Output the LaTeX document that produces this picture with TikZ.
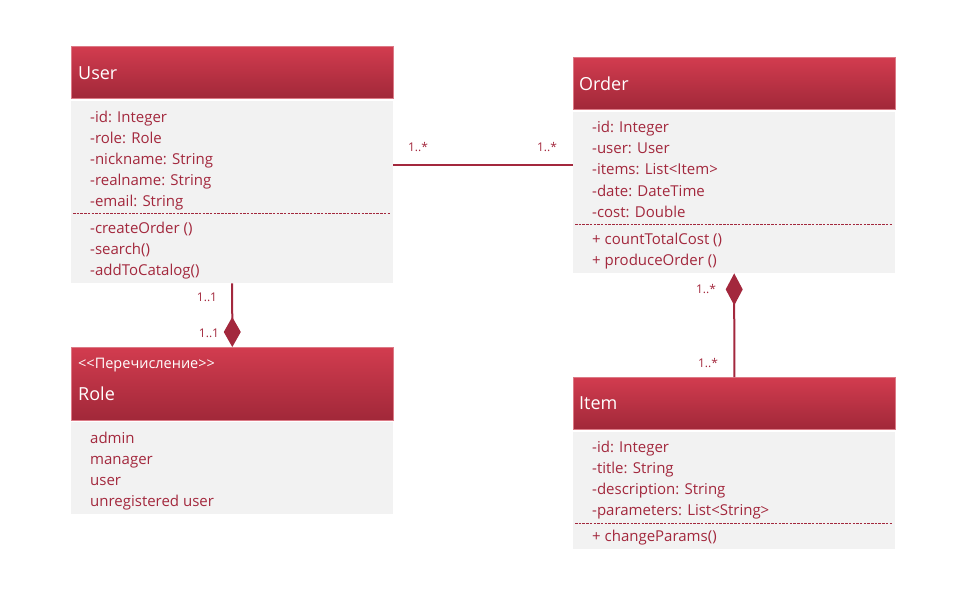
\documentclass[tikz,border=0pt]{standalone}
\usepackage{fontspec}
\setmainfont{Open Sans}
\usetikzlibrary{arrows.meta}
\definecolor{umlred}{HTML}{A3283D}
\definecolor{headtop}{HTML}{D23C4F}
\definecolor{headbot}{HTML}{A12839}
\definecolor{headedge}{HTML}{DC7A86}
\definecolor{bodygray}{HTML}{F2F2F2}
\begin{document}
\begin{tikzpicture}
[
x=1pt, y=-1pt,
umlhead/.style={rectangle, anchor=north west, top color=headtop, bottom color=headbot, draw=headedge, line width=0.6pt, minimum width=322pt, inner sep=0pt},
umlbody/.style={rectangle, anchor=north west, fill=bodygray, minimum width=322pt, inner sep=0pt},
umltitle/.style={anchor=base west, text=white, inner sep=0pt, font=\fontsize{18}{21}\selectfont},
umlstereo/.style={anchor=base west, text=white, inner sep=0pt, font=\fontsize{14.5}{15}\selectfont},
umlline/.style={anchor=base west, text=umlred, inner sep=0pt, font=\fontsize{15}{21}\selectfont},
sepline/.style={draw=umlred, dash pattern=on 2.5pt off 1.2pt, line width=0.8pt},
mult/.style={text=umlred, inner sep=0pt, font=\fontsize{12}{14}\selectfont},
assoc/.style={draw=umlred, line width=2pt, line join=miter}
]
\useasboundingbox (0,0) rectangle (970,592);

%Boxes
\node[umlhead, minimum height=52pt]	(userh) at(71,46) {};
\node[umlbody, minimum height=182pt]	(userb) at(71,101) {};
\node[umlhead, minimum height=52pt]	(orderh) at(573,57) {};
\node[umlbody, minimum height=161pt]	(orderb) at(573,112) {};
\node[umlhead, minimum height=73pt]	(roleh) at(71,347) {};
\node[umlbody, minimum height=92pt]	(roleb) at(71,422) {};
\node[umlhead, minimum height=52pt]	(itemh) at(573,377) {};
\node[umlbody, minimum height=117pt]	(itemb) at(573,432) {};

%Titles
\node[umltitle]		(usert) at(78,79) {User};
\node[umltitle]		(ordert) at(579,90) {Order};
\node[umlstereo]	(roles) at(78,368) {<{}<Перечисление>{}>};
\node[umltitle]		(rolet) at(78,400) {Role};
\node[umltitle]		(itemt) at(579,409) {Item};

%User
\node[umlline]	(u1) at(90,122) {-id: Integer};
\node[umlline]	(u2) at(90,143) {-role: Role};
\node[umlline]	(u3) at(90,164) {-nickname: String};
\node[umlline]	(u4) at(90,185) {-realname: String};
\node[umlline]	(u5) at(90,206) {-email: String};
\node[umlline]	(u6) at(90,233) {-createOrder ()};
\node[umlline]	(u7) at(90,254) {-search()};
\node[umlline]	(u8) at(90,275) {-addToCatalog()};
\draw[sepline] (73,213) -- (390,213);

%Order
\node[umlline]	(o1) at(592,132) {-id: Integer};
\node[umlline]	(o2) at(592,153) {-user: User};
\node[umlline]	(o3) at(592,174) {-items: List<Item>};
\node[umlline]	(o4) at(592,196) {-date: DateTime};
\node[umlline]	(o5) at(592,217) {-cost: Double};
\node[umlline]	(o6) at(592,244) {+ countTotalCost ()};
\node[umlline]	(o7) at(592,265) {+ produceOrder ()};
\draw[sepline] (575,224) -- (892,224);

%Role
\node[umlline]	(r1) at(90,443) {admin};
\node[umlline]	(r2) at(90,464) {manager};
\node[umlline]	(r3) at(90,485) {user};
\node[umlline]	(r4) at(90,506) {unregistered user};

%Item
\node[umlline]	(i1) at(592,452) {-id: Integer};
\node[umlline]	(i2) at(592,473) {-title: String};
\node[umlline]	(i3) at(592,494) {-description: String};
\node[umlline]	(i4) at(592,515) {-parameters: List<String>};
\node[umlline]	(i5) at(592,541) {+ changeParams()};
\draw[sepline] (575,523) -- (892,523);

%Connectors
\draw[assoc] ([yshift=27pt]userb.east) -- ([yshift=27pt]userb.east -| orderb.west);
\draw[assoc, -{Diamond[length=30pt,width=17pt]}] (userb.south) -- (roleh.north);
\draw[assoc, {Diamond[length=32pt,width=17pt]}-] (orderb.south) -- (itemh.north);

%Multiplicities
\node[mult]	(m1) at(418,147) {1..*};
\node[mult]	(m2) at(547,147) {1..*};
\node[mult]	(m3) at(207,297) {1..1};
\node[mult]	(m4) at(209,333) {1..1};
\node[mult]	(m5) at(706,289) {1..*};
\node[mult]	(m6) at(708,363) {1..*};

\end{tikzpicture}
\end{document}
